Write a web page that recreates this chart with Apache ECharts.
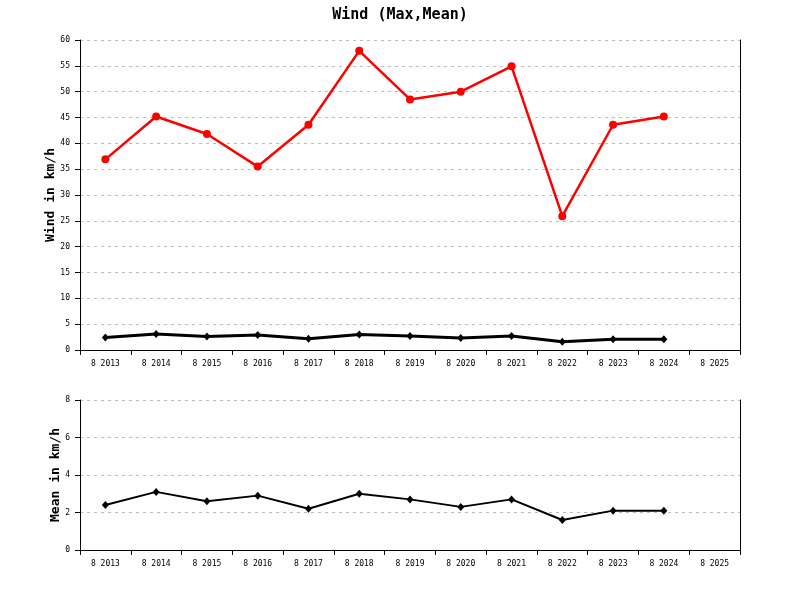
<!DOCTYPE html>
<html>
<head>
<meta charset="utf-8">
<script src="https://cdn.jsdelivr.net/npm/echarts@6/dist/echarts.min.js"></script>
<style>
html,body{margin:0;padding:0;background:#fff;}
#chart{width:800px;height:600px;}
</style>
</head>
<body>
<div id="chart"></div>
<script>
var categories = ['8 2013','8 2014','8 2015','8 2016','8 2017','8 2018','8 2019','8 2020','8 2021','8 2022','8 2023','8 2024','8 2025'];
var windMax = [36.9, 45.2, 41.8, 35.5, 43.6, 57.9, 48.5, 50.0, 54.9, 25.9, 43.6, 45.2];
var windMean = [2.4, 3.1, 2.6, 2.9, 2.2, 3.0, 2.7, 2.3, 2.7, 1.6, 2.1, 2.1];

var FONT = '"DejaVu Sans Mono", "Liberation Mono", monospace';

function xAxisCfg(gridIndex) {
  return {
    type: 'category',
    gridIndex: gridIndex,
    data: categories,
    boundaryGap: true,
    axisLine: { show: true, lineStyle: { color: '#000', width: 1 } },
    axisTick: { show: true, interval: 0, length: 5, lineStyle: { color: '#000' } },
    axisLabel: { interval: 0, margin: 10, color: '#000', fontFamily: FONT, fontSize: 8 },
    splitLine: { show: false }
  };
}
function yAxisCfg(gridIndex, max, interval, name, gap) {
  return {
    type: 'value',
    gridIndex: gridIndex,
    min: 0, max: max, interval: interval,
    name: name,
    nameLocation: 'middle',
    nameGap: gap,
    nameMoveOverlap: false,
    nameTextStyle: { color: '#000', fontFamily: FONT, fontSize: 13, fontWeight: 'bold' },
    axisLine: { show: true, lineStyle: { color: '#000', width: 1 } },
    axisTick: { show: true, length: 5, lineStyle: { color: '#000' } },
    axisLabel: { margin: 10, color: '#000', fontFamily: FONT, fontSize: 8 },
    splitLine: { show: true, lineStyle: { color: '#bbbbbb', type: [3, 4], width: 1 } }
  };
}
function rightAxisCfg(gridIndex, max, interval) {
  return {
    type: 'value',
    gridIndex: gridIndex,
    position: 'right',
    min: 0, max: max, interval: interval,
    axisLine: { show: true, lineStyle: { color: '#000', width: 1 } },
    axisTick: { show: false },
    axisLabel: { show: false },
    splitLine: { show: false }
  };
}

var chart = echarts.init(document.getElementById('chart'), null, { renderer: 'canvas' });
chart.setOption({
  backgroundColor: '#fff',
  animation: false,
  title: {
    text: 'Wind (Max,Mean)',
    left: 'center',
    top: 3,
    textStyle: { color: '#000', fontFamily: FONT, fontSize: 15, fontWeight: 'bold' }
  },
  grid: [
    { left: 80, right: 60, top: 40, height: 310 },
    { left: 80, right: 60, top: 400, height: 150 }
  ],
  xAxis: [xAxisCfg(0), xAxisCfg(1)],
  yAxis: [
    yAxisCfg(0, 60, 5, 'Wind in km/h', 23),
    yAxisCfg(1, 8, 2, 'Mean in km/h', 18),
    rightAxisCfg(0, 60, 5),
    rightAxisCfg(1, 8, 2)
  ],
  series: [
    {
      type: 'line', name: 'Max', xAxisIndex: 0, yAxisIndex: 0,
      data: windMax,
      symbol: 'circle', symbolSize: 8,
      itemStyle: { color: '#ff0000' },
      lineStyle: { color: '#ff0000', width: 2.5 }
    },
    {
      type: 'line', name: 'Mean', xAxisIndex: 0, yAxisIndex: 0,
      data: windMean,
      symbol: 'diamond', symbolSize: [7, 8],
      itemStyle: { color: '#000' },
      lineStyle: { color: '#000', width: 3 }
    },
    {
      type: 'line', name: 'Mean2', xAxisIndex: 1, yAxisIndex: 1,
      data: windMean,
      symbol: 'diamond', symbolSize: [7, 8],
      itemStyle: { color: '#000' },
      lineStyle: { color: '#000', width: 2 }
    }
  ]
});
</script>
</body>
</html>
